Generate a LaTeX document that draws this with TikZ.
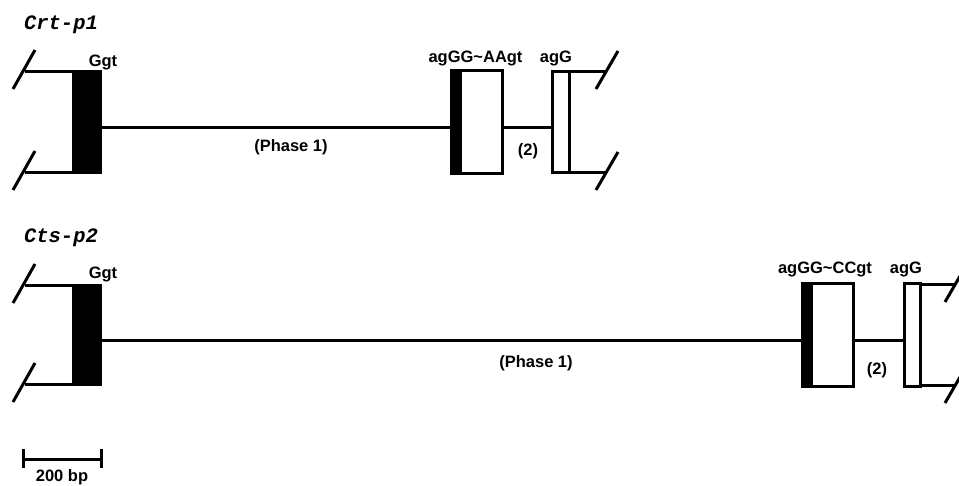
\documentclass[tikz,border=0pt]{standalone}
\usepackage{fontspec}
\usepackage{tikz}
\usetikzlibrary{calc}
\newfontfamily\labfont{Liberation Sans}
\newfontfamily\genefont{Liberation Mono}

\tikzset{
  exon/.style={draw, line width=3pt, fill=white, inner sep=0pt, outer sep=0pt},
  blackstrip/.style={path picture={\fill[black] (path picture bounding box.south west) rectangle ([xshift=11pt]path picture bounding box.north west);}},
  intron/.style={line width=3pt},
  lab/.style={font=\labfont\bfseries\fontsize{16.5}{18}\selectfont, inner sep=0pt},
  gene/.style={font=\genefont\bfseries\itshape\fontsize{20.5}{22}\selectfont, inner sep=0pt}
}

\begin{document}
\begin{tikzpicture}[x=1pt, y=-1pt]
  \useasboundingbox (0,0) rectangle (959,486);
  \clip (0,0) rectangle (959,486);

  % Gene Crt-p1
  \node[gene] (g1) at (61,25) {Crt-p1};
  \node[exon, fill=black, minimum width=27pt, minimum height=101pt] (a1) at (86.5,122.5) {};
  \node[exon, blackstrip, minimum width=51pt, minimum height=103pt] (a2) at (476.5,122.5) {};
  \node[exon, minimum width=17pt, minimum height=101pt] (a3) at (560.5,122.5) {};
  \coordinate (aln) at (0,128);

  % Introns of Crt-p1
  \draw[intron] (a1.east |- aln) -- (a2.west |- aln);
  \draw[intron] (a2.east |- aln) -- (a3.west |- aln);

  % Breaks of Crt-p1
  \coordinate (aL1) at (25,72);
  \coordinate (aL2) at (25,173);
  \coordinate (aR1) at (606,72);
  \coordinate (aR2) at (606,173);
  \draw[intron] (aL1) -- (a1.north west |- aL1);
  \draw[intron] (aL2) -- (a1.south west |- aL2);
  \draw[intron] (a3.north east |- aR1) -- (aR1);
  \draw[intron] (a3.south east |- aR2) -- (aR2);
  \foreach \p in {aL1, aL2} {
    \draw[intron] ($(\p)+(-12,17)$) -- ($(\p)+(10,-22)$);
  }
  \foreach \p in {aR1, aR2} {
    \draw[intron] ($(\p)+(-10,17)$) -- ($(\p)+(12,-21)$);
  }

  % Labels of Crt-p1
  \node[lab] (a1t) at (103,62) {Ggt};
  \node[lab] (a2t) at (475.5,58) {agGG\char`~AAgt};
  \node[lab] (a3t) at (556,58) {agG};
  \node[lab] (ap1) at (291,147) {(Phase 1)};
  \node[lab] (ap2) at (528,151) {(2)};

  % Gene Cts-p2
  \node[gene] (g2) at (61,238) {Cts-p2};
  \node[exon, fill=black, minimum width=27pt, minimum height=99pt] (b1) at (86.5,335.5) {};
  \node[exon, blackstrip, minimum width=51pt, minimum height=103pt] (b2) at (827.5,335.5) {};
  \node[exon, minimum width=16pt, minimum height=103pt] (b3) at (912,335.5) {};
  \coordinate (bln) at (0,341);

  % Introns of Cts-p2
  \draw[intron] (b1.east |- bln) -- (b2.west |- bln);
  \draw[intron] (b2.east |- bln) -- (b3.west |- bln);

  % Breaks of Cts-p2
  \coordinate (bL1) at (25,286);
  \coordinate (bL2) at (25,385);
  \coordinate (bR1) at (955,285);
  \coordinate (bR2) at (955,386);
  \draw[intron] (bL1) -- (b1.north west |- bL1);
  \draw[intron] (bL2) -- (b1.south west |- bL2);
  \draw[intron] (b3.north east |- bR1) -- (bR1);
  \draw[intron] (b3.south east |- bR2) -- (bR2);
  \foreach \p in {bL1, bL2} {
    \draw[intron] ($(\p)+(-12,17)$) -- ($(\p)+(10,-22)$);
  }
  \foreach \p in {bR1, bR2} {
    \draw[intron] ($(\p)+(-10,17)$) -- ($(\p)+(12,-21)$);
  }

  % Labels of Cts-p2
  \node[lab] (b1t) at (103,274) {Ggt};
  \node[lab] (b2t) at (825,269) {agGG\char`~CCgt};
  \node[lab] (b3t) at (906,269) {agG};
  \node[lab] (bp1) at (536,363) {(Phase 1)};
  \node[lab] (bp2) at (877,370) {(2)};

  % Scale bar
  \coordinate (s1) at (23,459);
  \coordinate (s2) at (101,459);
  \draw[intron] (s1) -- (s2);
  \draw[intron] ($(s1)+(0,-10)$) -- ($(s1)+(0,9)$);
  \draw[intron] ($(s2)+(0,-10)$) -- ($(s2)+(0,9)$);
  \node[lab] (sbt) at (62,477) {200 bp};
\end{tikzpicture}
\end{document}
